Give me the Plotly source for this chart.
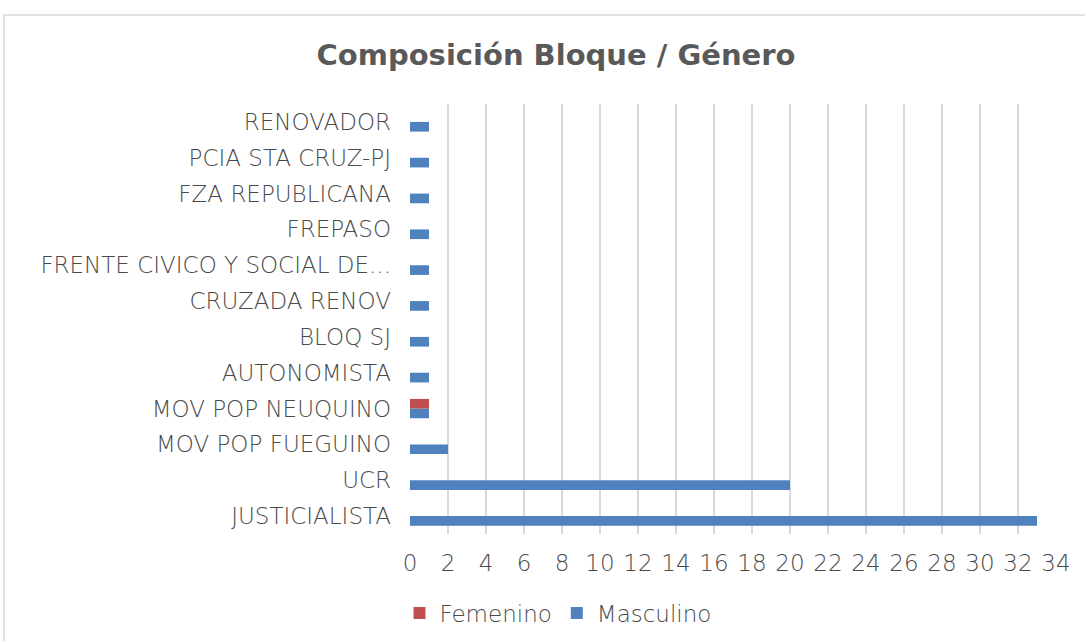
import plotly.graph_objects as go

categories = ["JUSTICIALISTA", "UCR", "MOV POP FUEGUINO", "MOV POP NEUQUINO",
              "AUTONOMISTA", "BLOQ SJ", "CRUZADA RENOV", "FRENTE CIVICO Y SOCIAL DE...",
              "FREPASO", "FZA REPUBLICANA", "PCIA STA CRUZ-PJ", "RENOVADOR"]
femenino = [0, 0, 0, 1, 0, 0, 0, 0, 0, 0, 0, 0]
masculino = [33, 20, 2, 1, 1, 1, 1, 1, 1, 1, 1, 1]
x_ticks = list(range(0, 35, 2))

FONT = "DejaVu Sans"
TXT = "#595959"
FS = 23
WT = 300

fig = go.Figure()
fig.add_trace(go.Bar(y=categories, x=masculino, orientation="h", name="Masculino",
                     marker=dict(color="#4F81BD", line=dict(width=0)), legendrank=2))
fig.add_trace(go.Bar(y=categories, x=femenino, orientation="h", name="Femenino",
                     marker=dict(color="#C0504D", line=dict(width=0)), legendrank=1))

L, R, T, B = 410, 29, 104, 107
W, H = 1085, 641
pw = W - L - R
ph = H - T - B

fig.update_layout(
    width=W, height=H,
    margin=dict(l=L, r=R, t=T, b=B, autoexpand=False),
    paper_bgcolor="white", plot_bgcolor="white",
    barmode="group", bargap=0.46, bargroupgap=0,
    font=dict(family=FONT, color=TXT, size=FS, weight=WT),
    title=dict(text="<b>Composición Bloque / Género</b>", x=556 / W, xanchor="center",
               y=1 - 55 / H, yanchor="middle", font=dict(size=29, color=TXT, family=FONT)),
    xaxis=dict(range=[0, 34], tickvals=x_ticks, showgrid=True, gridcolor="#d9d9d9",
               gridwidth=1.5, zeroline=False, showline=False, ticks="",
               tickfont=dict(size=FS, color="#4a4a4a", weight=WT), ticklabelstandoff=13,
               fixedrange=True),
    yaxis=dict(categoryorder="array", categoryarray=categories, showgrid=False,
               showline=False, zeroline=False, ticks="", ticklabelstandoff=18,
               tickfont=dict(size=FS, color="#4a4a4a", weight=WT), fixedrange=True),
    legend=dict(orientation="h", x=(558 - L) / pw, xanchor="center",
                y=(T + ph - 613) / ph, yanchor="middle",
                font=dict(size=FS, color="#4a4a4a", weight=WT), itemwidth=30,
                traceorder="normal"),
    showlegend=True,
)

fig.add_shape(type="rect", xref="paper", yref="paper",
              x0=(4 - L) / pw, x1=(1100 - L) / pw,
              y0=(T + ph - 660) / ph, y1=(T + ph - 15) / ph,
              line=dict(color="#d9d9d9", width=1.5), fillcolor="rgba(0,0,0,0)", layer="below")

fig.write_html("out.html", config={"displayModeBar": False},
               post_script="document.body.style.margin='0';")
